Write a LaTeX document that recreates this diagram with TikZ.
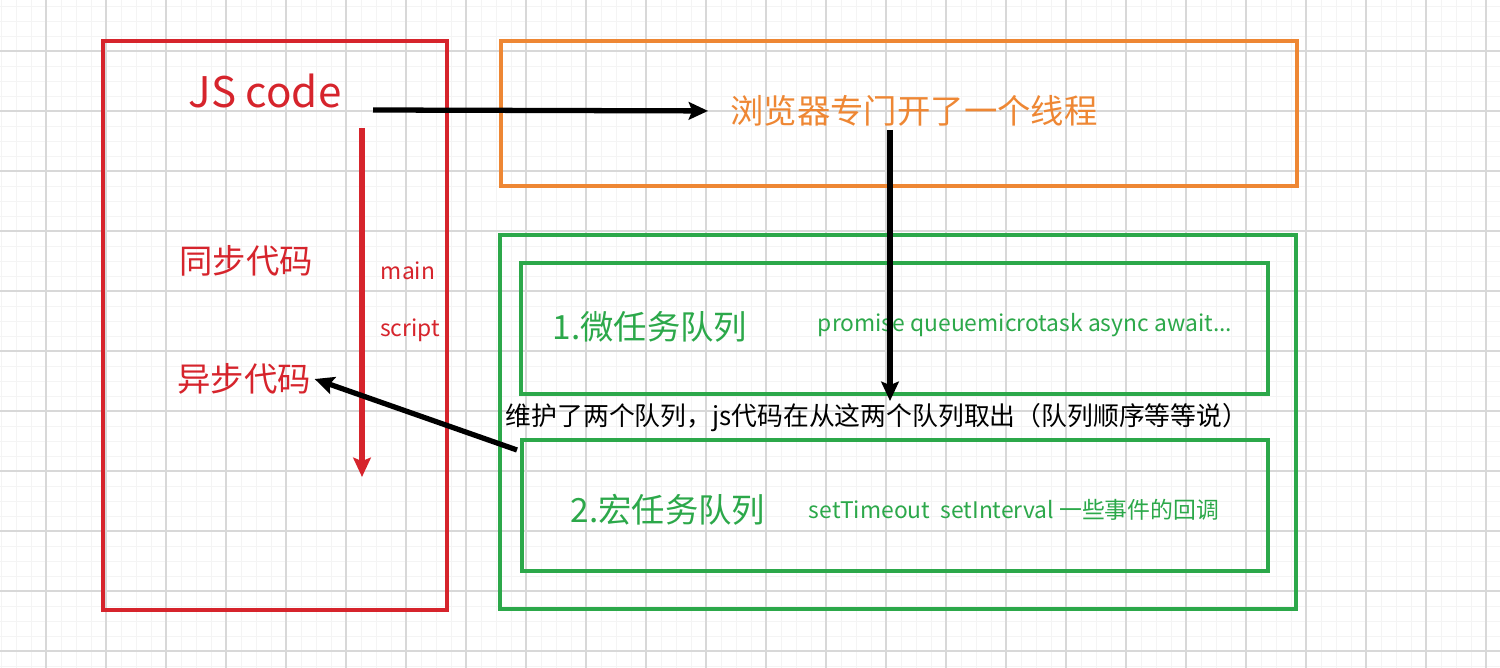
\documentclass[tikz,border=0pt]{standalone}
\usepackage{fontspec}
\setmainfont{Noto Sans CJK SC}
\usetikzlibrary{arrows.meta,fit}
\definecolor{codered}{RGB}{214,36,44}
\definecolor{threadorange}{RGB}{238,135,52}
\definecolor{queuegreen}{RGB}{44,168,74}
\definecolor{gridmajor}{RGB}{216,216,216}
\definecolor{gridminor}{RGB}{244,244,244}
\begin{document}
\begin{tikzpicture}[x=0.02cm,y=-0.02cm,line cap=butt,line join=miter,>=stealth]
		\tikzset{box/.style={draw=#1,line width=1.9pt,inner sep=0pt},
			big/.style={font=\fontsize{19}{22}\selectfont,inner sep=0pt},
			small/.style={font=\fontsize{13}{15}\selectfont,inner sep=0pt},
			arr/.style={line width=3pt,-{Stealth[length=11pt,width=10pt,inset=2pt]}}}
		\useasboundingbox (0,0) rectangle (1500,668);
		%--------- Lưới nền
		\foreach \i in {1,16,...,1500} \draw[gridminor,line width=0.5pt] (\i,0)--(\i,668);
		\foreach \j in {6,21,...,668} \draw[gridminor,line width=0.5pt] (0,\j)--(1500,\j);
		\foreach \i in {46,106,...,1500} \draw[gridmajor,line width=0.6pt] (\i,0)--(\i,668);
		\foreach \j in {51,111,...,668} \draw[gridmajor,line width=0.6pt] (0,\j)--(1500,\j);
		%--------- Khung
		\node[box=codered,fit={(103,41) (447,610)}] (codebox) {};
		\node[box=threadorange,fit={(501,41) (1297,186)}] (threadbox) {};
		\node[box=queuegreen,fit={(500,235) (1296,609)}] (queuebox) {};
		\node[box=queuegreen,fit={(521,263) (1268,394)}] (microbox) {};
		\node[box=queuegreen,fit={(522,440) (1268,571)}] (macrobox) {};
		%--------- Chữ
		\node[codered,font=\fontsize{24}{28}\selectfont,inner sep=0pt] (js) at (265,91) {JS code};
		\node[big,codered] (sync) at (246,261) {同步代码};
		\node[big,codered,inner sep=2pt] (async) at (244,379) {异步代码};
		\node[small,codered] (main) at (408,271) {main};
		\node[small,codered] (script) at (410,330) {script};
		\node[big,threadorange] (thread) at (914,111) {浏览器专门开了一个线程};
		\node[big,queuegreen] (micro) at (650,327) {1.微任务队列};
		\node[small,queuegreen] (microlist) at (1025,325) {promise queuemicrotask async await...};
		\node[font=\fontsize{14.7}{17}\selectfont,inner sep=0pt] (note) at (877,418) {维护了两个队列，js代码在从这两个队列取出（队列顺序等等说）};
		\node[big,queuegreen] (macro) at (668,510) {2.宏任务队列};
		\node[small,queuegreen] (macrolist) at (1014,510) {setTimeout\ \ setInterval 一些事件的回调};
		%--------- Mũi tên
		\coordinate (jsout) at (373,110);
		\coordinate (mtop) at (362,128);
		\coordinate (mbot) at (362,477);
		\coordinate (thrdown) at (890,130);
		\coordinate (pick) at (890,401);
		\coordinate (macroout) at (517,450);
		\draw[arr,codered] (mtop)--(mbot);
		\draw[arr,shorten >=0.44cm] (jsout)--(thread.west);
		\draw[arr] (thrdown)--(pick);
		\draw[arr] (macroout)--(async.east);
	\end{tikzpicture}
\end{document}
